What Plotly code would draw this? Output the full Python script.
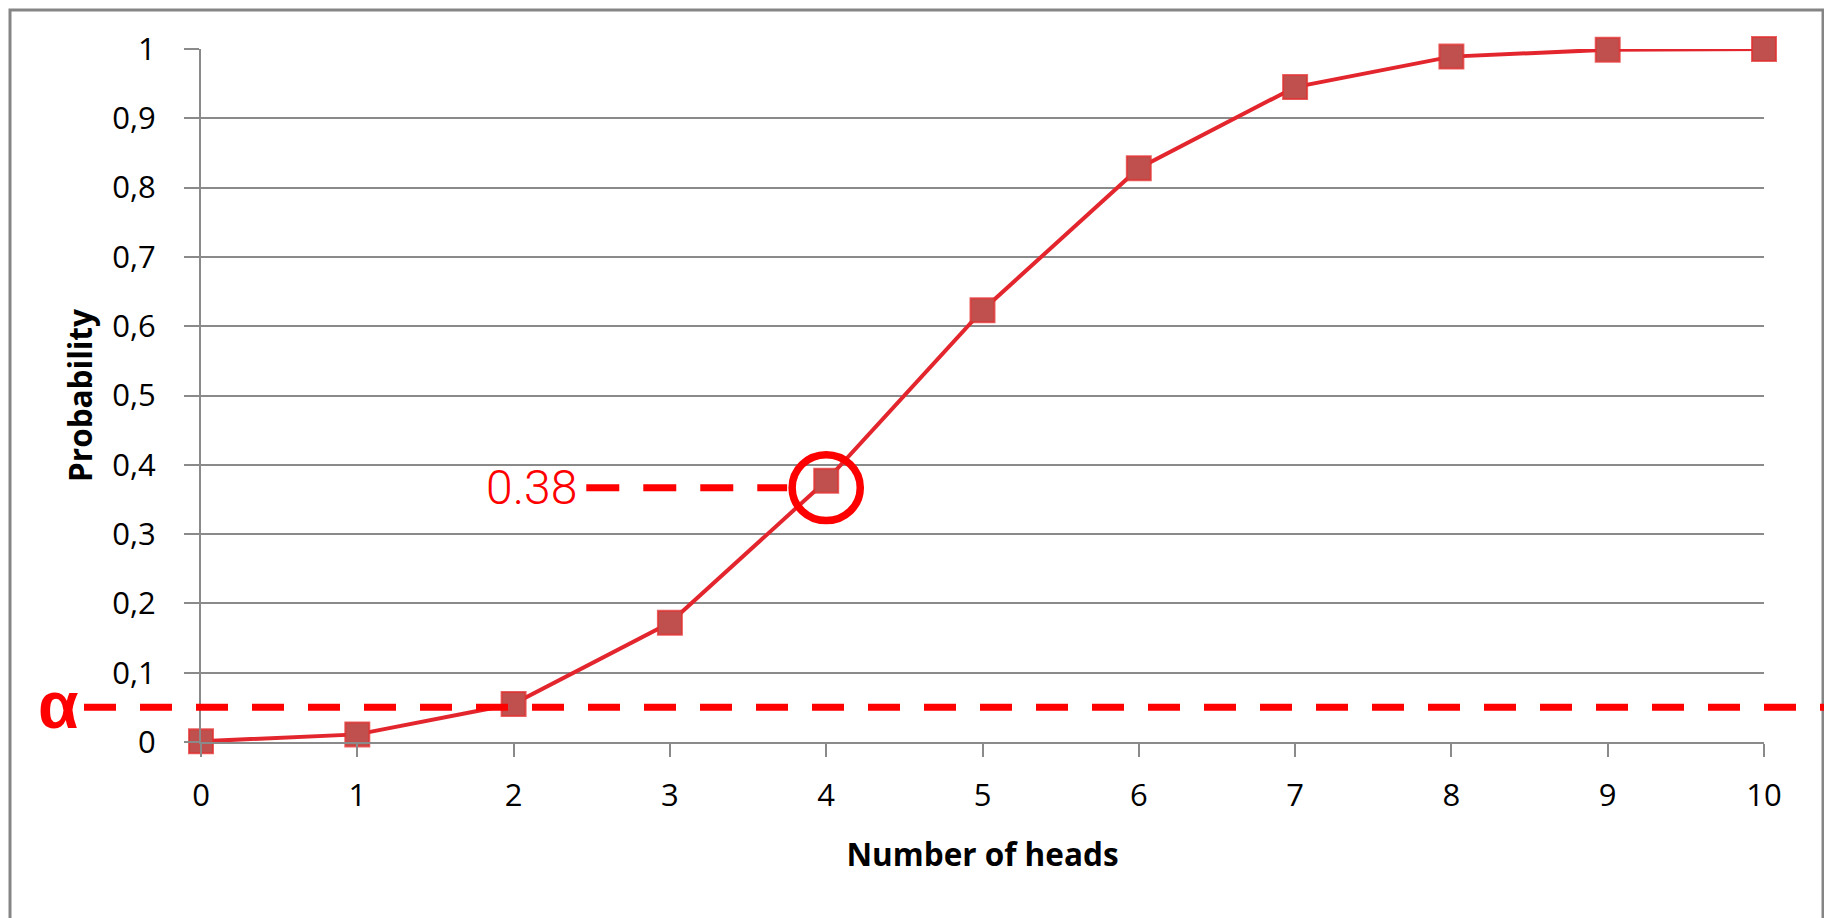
import plotly.graph_objects as go

# ---- data ----
heads = [0, 1, 2, 3, 4, 5, 6, 7, 8, 9, 10]
probability = [0.001, 0.011, 0.055, 0.172, 0.377, 0.623, 0.828, 0.945, 0.989, 0.999, 1.0]
y_tick_vals = [0, 0.1, 0.2, 0.3, 0.4, 0.5, 0.6, 0.7, 0.8, 0.9, 1.0]
y_tick_text = ["0", "0,1", "0,2", "0,3", "0,4", "0,5", "0,6", "0,7", "0,8", "0,9", "1"]
x_tick_vals = heads
alpha_level = 0.05
highlight_x = 4
highlight_y = 0.367
highlight_label = "0.38"

# ---- layout geometry (screen pixels; page body has an 8px margin) ----
OFF = 8
SCREEN_W, SCREEN_H = 1832, 918
W, H = SCREEN_W - OFF, SCREEN_H - OFF
PLOT_LEFT, PLOT_RIGHT, PLOT_TOP, PLOT_BOTTOM = 201, 1764, 49, 742
L = PLOT_LEFT - OFF
R = W - (PLOT_RIGHT - OFF)
T = PLOT_TOP - OFF
B = H - (PLOT_BOTTOM - OFF)
PW, PH = PLOT_RIGHT - PLOT_LEFT, PLOT_BOTTOM - PLOT_TOP
X_RANGE = [0, 10]
Y_RANGE = [0, 1]


def px_x(p):
    return (p - PLOT_LEFT) / PW


def px_y(p):
    return (PLOT_BOTTOM - p) / PH


def dx(v):
    return (v - X_RANGE[0]) / (X_RANGE[1] - X_RANGE[0])


RED = "#ff0000"
GRID = "#8a8a8a"

fig = go.Figure()
fig.add_trace(go.Scatter(
    x=heads, y=probability, mode="lines+markers",
    line=dict(color="#e3262d", width=4),
    marker=dict(symbol="square", size=24, color="#c0504d",
                line=dict(color="rgba(225,45,45,0.75)", width=2)),
    cliponaxis=False, showlegend=False, hoverinfo="x+y",
))

shapes = []
# outer chart border
shapes.append(dict(type="rect", xref="paper", yref="paper",
                   x0=px_x(10), x1=px_x(1823), y0=px_y(940), y1=px_y(10),
                   line=dict(color="#858585", width=3), fillcolor="rgba(0,0,0,0)", layer="below"))
# alpha dashed line
shapes.append(dict(type="line", xref="paper", yref="paper",
                   x0=px_x(84), x1=px_x(1840), y0=alpha_level, y1=alpha_level,
                   line=dict(color=RED, width=7, dash="32px,24px")))
# 0.38 dashed leader
shapes.append(dict(type="line", xref="paper", yref="paper",
                   x0=dx(2.465), x1=dx(3.75), y0=highlight_y, y1=highlight_y,
                   line=dict(color=RED, width=7, dash="33px,24px")))
# circle around point
shapes.append(dict(type="circle", xref="x", yref="y",
                   x0=highlight_x - 0.218, x1=highlight_x + 0.218,
                   y0=highlight_y - 0.0475, y1=highlight_y + 0.0475,
                   line=dict(color=RED, width=7.5)))

annotations = [
    dict(text="α", xref="paper", yref="paper", x=px_x(58), y=alpha_level + 0.004,
         showarrow=False, xanchor="center", yanchor="middle",
         font=dict(family="Liberation Sans", size=66, color=RED, weight="bold")),
    dict(text=highlight_label, xref="paper", yref="paper", x=dx(2.42), y=highlight_y,
         showarrow=False, xanchor="right", yanchor="middle",
         font=dict(family="Roboto", size=48, color=RED, weight=300)),
]

TICKFONT = dict(family="Open Sans", size=31, color="#000000")
TITLEFONT = dict(family="Open Sans", size=31.5, color="#000000")
fig.update_layout(
    width=W, height=H, autosize=False,
    margin=dict(l=L, r=R, t=T, b=B, pad=0),
    paper_bgcolor="white", plot_bgcolor="white",
    shapes=shapes, annotations=annotations,
    xaxis=dict(range=X_RANGE, tickvals=x_tick_vals, ticktext=[str(v) for v in x_tick_vals],
               showgrid=False, zeroline=False, showline=True, linecolor=GRID, linewidth=2,
               ticks="outside", ticklen=13, tickwidth=2, tickcolor=GRID,
               tickfont=TICKFONT, ticklabelstandoff=12,
               title=dict(text="<b>Number of heads</b>", standoff=30, font=TITLEFONT)),
    yaxis=dict(range=Y_RANGE, tickvals=y_tick_vals, ticktext=y_tick_text,
               showgrid=True, gridcolor=GRID, gridwidth=2, zeroline=False,
               showline=True, linecolor=GRID, linewidth=2,
               ticks="outside", ticklen=15, tickwidth=2, tickcolor=GRID,
               tickfont=TICKFONT, ticklabelstandoff=22,
               title=dict(text="<b>Probability</b>", standoff=10, font=TITLEFONT)),
)

fig.write_html("out.html")
